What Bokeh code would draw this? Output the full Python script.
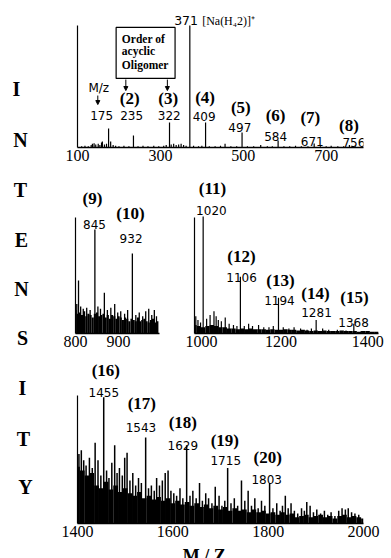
from bokeh.plotting import figure
from bokeh.layouts import row, column
from bokeh.models import Range1d, FixedTicker, Arrow, NormalHead
from bokeh.core.properties import value
from bokeh.embed import file_html
from bokeh.resources import INLINE

# ---------------- data ----------------
# Panel 1 (m/z 100-790), intensity relative to m/z 371 = 100
p1_mz = [110, 118, 126, 133, 136, 140, 144, 150, 154, 158, 160, 165, 170, 175, 180, 186, 192, 200, 212, 224,
         235, 246, 258, 270, 284, 296, 308, 314, 322, 326, 332, 338, 344, 350, 356, 362, 371, 380, 392, 400,
         409, 418, 432, 445, 456, 470, 484, 497, 510, 525, 542, 558, 570, 584, 598, 612, 626, 640, 656, 671,
         686, 700, 712, 728, 742, 756, 770]
p1_int = [1, 1.5, 1, 2, 3, 3.5, 2.5, 3, 2, 4, 5, 2.5, 3, 15.6, 5, 2, 1.5, 1, 1.5, 1,
          9.8, 1, 1.5, 1, 1.5, 1, 1.5, 2, 20.5, 2.5, 3, 2, 2.5, 3, 2, 1.5, 100, 1.5, 1, 1.5,
          20.5, 1, 1, 1.5, 3, 1, 1, 12.3, 1, 1, 2, 1, 1, 5.7, 1, 1, 1.5, 1, 1, 3.3,
          1, 1, 1.5, 1, 1, 2, 1]
p1_ticks = [100, 300, 500, 700]
p1_num_text = ["175", "235", "322", "409", "497", "584", "671", "756"]
p1_num_x = [158.3, 230.5, 321.4, 405.4, 491.6, 577.9, 666.4, 766.7]
p1_num_y = [26.2, 26.2, 26.2, 25.4, 16.4, 9.0, 4.9, 4.1]
p1_ord_text = ["(2)", "(3)", "(4)", "(5)", "(6)", "(7)", "(8)"]
p1_ord_x = [225.9, 319.0, 407.7, 494.0, 577.9, 661.8, 755.0]
p1_ord_y = [40.2, 40.2, 41.0, 32.8, 26.2, 24.6, 18.0]

# Panel 2 (m/z 800-995)
p2_floor_mz = [800, 805, 810, 815, 820, 825, 830, 835, 840, 845, 850, 855, 860, 865, 870, 875, 880, 885, 890, 895,
               900, 905, 910, 915, 920, 925, 930, 935, 940, 945, 950, 955, 960, 965, 970, 975, 980, 985, 990]
p2_floor_int = [19, 16, 17, 15, 18, 14, 16, 15, 13, 16, 17, 14, 15, 16, 13, 15, 12, 15, 14, 12,
                14, 13, 11, 13, 12, 10, 12, 11, 10, 13, 10, 11, 12, 10, 9, 11, 12, 9, 10]
p2_mz = [803, 807, 812, 818, 826, 834, 845, 852, 858, 867, 874, 882, 891, 898, 905, 914, 921, 932, 940, 948,
         956, 963, 970, 977, 983, 988]
p2_int = [24, 43, 22, 20, 21, 19, 84.5, 22, 20, 33, 19, 21, 24, 17, 18, 16, 19, 65, 15, 17,
          14, 18, 20, 15, 19, 14]
p2_ticks = [800, 900]
p2_num_text = ["845", "932"]
p2_num_x = [844, 929]
p2_num_y = [88.5, 77.2]
p2_ord_text = ["(9)", "(10)"]
p2_ord_x = [839.5, 927.7]
p2_ord_y = [109.7, 97.5]

# Panel 3 (m/z 1000-1425)
p3_floor_mz = [1000, 1010, 1020, 1030, 1040, 1050, 1060, 1070, 1080, 1090, 1100, 1110, 1120, 1130, 1140,
               1150, 1160, 1170, 1180, 1190, 1200, 1210, 1220, 1230, 1240, 1250, 1260, 1270, 1280, 1290,
               1300, 1310, 1320, 1330, 1340, 1350, 1360, 1370, 1380, 1390, 1400, 1410, 1420]
p3_floor_int = [7, 6, 5, 6, 7, 6, 5, 5, 4, 4, 3.5, 4, 3.5, 4, 3.5, 3.5, 3.5, 3, 3.5, 3,
                3, 3.5, 3, 3, 2.5, 3, 2.5, 2, 2.5, 2, 2.5, 2, 2, 2, 2.5, 2, 2, 2, 1.5, 2,
                2, 1.5, 1.5]
p3_mz = [1003, 1008, 1014, 1020, 1028, 1036, 1045, 1050, 1055, 1062, 1071, 1080, 1090, 1098, 1106, 1115,
         1125, 1134, 1148, 1160, 1172, 1182, 1194, 1205, 1218, 1230, 1245, 1260, 1270, 1281, 1296, 1310,
         1330, 1350, 1368, 1385, 1400]
p3_int = [14, 11, 9, 95, 12, 15, 18, 14, 11, 10, 13, 8, 7, 6, 46, 6,
          8, 6, 7, 5, 5, 6, 29, 5, 4, 5, 4, 3, 4, 11, 4, 3,
          3, 2.5, 8, 2, 2]
p3_ticks = [1000, 1200, 1400]
p3_num_text = ["1020", "1106", "1194", "1281", "1368"]
p3_num_x = [1039, 1108.6, 1196.3, 1281.8, 1367.3]
p3_num_y = [100, 45.5, 26.8, 17, 8.9]
p3_ord_text = ["(11)", "(12)", "(13)", "(14)", "(15)"]
p3_ord_x = [1041.6, 1108.6, 1198.7, 1279.5, 1369.6]
p3_ord_y = [117.8, 62.5, 43, 32.5, 29.2]

# Panel 4 (m/z 1400-2000)
p4_floor_mz = [1400, 1410, 1420, 1430, 1440, 1450, 1460, 1470, 1480, 1490,
               1500, 1510, 1520, 1530, 1540, 1550, 1560, 1570, 1580, 1590,
               1600, 1610, 1620, 1630, 1640, 1650, 1660, 1670, 1680, 1690,
               1700, 1710, 1720, 1730, 1740, 1750, 1760, 1770, 1780, 1790,
               1800, 1810, 1820, 1830, 1840, 1850, 1860, 1870, 1880, 1890,
               1900, 1910, 1920, 1930, 1940, 1950, 1960, 1970, 1980, 1990, 2000]
p4_floor_int = [45, 42, 38, 40, 30, 28, 33, 27, 30, 25,
                28, 24, 22, 25, 20, 22, 19, 21, 18, 20,
                16, 18, 15, 17, 14, 16, 13, 15, 12, 14,
                11, 13, 10, 12, 10, 11, 9, 11, 9, 10,
                8, 9, 7, 9, 7, 8, 5, 6, 7, 5,
                6, 7, 5, 6, 4, 6, 7, 5, 6, 5, 4]
p4_mz = [1403, 1408, 1413, 1418, 1425, 1431, 1437, 1443, 1449, 1455,
         1461, 1466, 1472, 1478, 1483, 1488, 1494, 1499, 1504, 1510,
         1516, 1522, 1528, 1534, 1543, 1549, 1555, 1561, 1566, 1572,
         1578, 1584, 1590, 1596, 1602, 1608, 1615, 1621, 1629, 1636,
         1642, 1649, 1656, 1662, 1669, 1675, 1682, 1689, 1697, 1703,
         1709, 1715, 1722, 1729, 1736, 1744, 1751, 1758, 1765, 1772,
         1779, 1786, 1793, 1803, 1810, 1818, 1825, 1830, 1836, 1842,
         1848, 1855, 1862, 1870, 1876, 1881, 1888, 1895, 1902, 1910,
         1918, 1925, 1932, 1940, 1948, 1955, 1962, 1968, 1975, 1982, 1990]
p4_int = [55, 58, 50, 46, 52, 44, 64, 50, 38, 100,
          42, 36, 48, 62, 40, 44, 38, 52, 56, 34,
          40, 30, 36, 32, 68, 28, 30, 26, 36, 30,
          34, 40, 42, 26, 24, 22, 28, 20, 62, 22,
          26, 20, 32, 18, 24, 20, 16, 29, 22, 14,
          18, 44, 16, 20, 14, 34, 18, 26, 14, 20,
          12, 18, 14, 32, 12, 16, 10, 14, 22, 12,
          16, 10, 8, 12, 10, 17, 14, 9, 11, 8,
          10, 7, 9, 6, 10, 12, 11, 12, 9, 8, 7]
p4_ticks = [1400, 1600, 1800, 2000]
p4_num_text = ["1455", "1543", "1629", "1715", "1803"]
p4_num_x = [1455.3, 1533, 1621, 1711, 1797]
p4_num_y = [103.7, 76, 61.8, 49.9, 34.8]
p4_ord_text = ["(16)", "(17)", "(18)", "(19)", "(20)"]
p4_ord_x = [1459.4, 1535, 1621, 1709, 1799]
p4_ord_y = [121, 95, 80, 65.7, 52.3]

ylabel_letters = ["I", "N", "T", "E", "N", "S", "I", "T", "Y"]
xlabel_text = "M / Z"

SERIF = "Liberation Serif"
SANS = "DejaVu Sans"


def make_panel(width, height, bl, br, bb, xr, yr, ticks, ybound):
    p = figure(width=width, height=height, x_range=Range1d(*xr), y_range=Range1d(*yr),
               output_backend="svg", toolbar_location=None,
               min_border_left=bl, min_border_right=br, min_border_top=0, min_border_bottom=bb)
    p.grid.visible = False
    p.outline_line_color = None
    p.background_fill_color = "white"
    p.border_fill_color = "white"
    xa = p.xaxis[0]
    xa.ticker = FixedTicker(ticks=ticks)
    xa.major_tick_line_color = None
    xa.minor_tick_line_color = None
    xa.major_tick_out = 0
    xa.minor_tick_out = 0
    xa.major_tick_in = 0
    xa.minor_tick_in = 0
    xa.axis_line_width = 1.4
    xa.axis_line_color = "black"
    xa.major_label_text_font = SERIF
    xa.major_label_text_font_size = "16px"
    xa.major_label_text_color = "black"
    xa.major_label_standoff = 2
    ya = p.yaxis[0]
    ya.ticker = FixedTicker(ticks=[])
    ya.bounds = (0, ybound)
    ya.major_tick_line_color = None
    ya.minor_tick_line_color = None
    ya.major_tick_out = 0
    ya.minor_tick_out = 0
    ya.major_label_standoff = 0
    ya.axis_line_width = 1.2
    ya.axis_line_color = "black"
    return p


def add_spectrum(p, mz, inten, lw=1.2, floor_mz=None, floor_int=None, floor_w=None):
    if floor_mz is not None:
        p.vbar(x=floor_mz, top=floor_int, bottom=0, width=floor_w, fill_color="black", line_color=None)
    p.segment(x0=mz, y0=[0] * len(mz), x1=mz, y1=inten, line_color="black", line_width=lw)


def add_labels(p, nt, nx, ny, ot, ox, oy):
    p.text(x=nx, y=ny, text=nt, text_font=value(SANS), text_font_size="12px",
           text_align="center", text_baseline="middle", text_color="black")
    p.text(x=ox, y=oy, text=ot, text_font=value(SERIF), text_font_style="bold",
           text_font_size="17px", text_align="center", text_baseline="middle", text_color="black")


def bare_figure(width, height, xr, yr, bl=0, br=0):
    f = figure(width=width, height=height, x_range=xr, y_range=yr,
               output_backend="svg", toolbar_location=None, x_axis_location=None, y_axis_location=None,
               min_border_left=bl, min_border_right=br, min_border_top=0, min_border_bottom=0)
    f.grid.visible = False
    f.outline_line_color = None
    return f


# ---------------- letters column ----------------
p0 = bare_figure(43, 558, Range1d(0, 43), Range1d(558, 0))
p0.text(x=[16, 20, 20, 21, 21, 22, 22, 23, 25], y=[88, 139, 189, 239, 288, 337, 387, 438, 486],
        text=ylabel_letters, text_font=value(SERIF), text_font_style="bold", text_font_size="20px",
        text_align="center", text_baseline="middle", text_color="black")

# ---------------- panel 1 ----------------
p1 = make_panel(348, 168, 24, 28, 21, (100, 790), (0, 120.5), p1_ticks, 100)
add_spectrum(p1, p1_mz, p1_int)
add_labels(p1, p1_num_text, p1_num_x, p1_num_y, p1_ord_text, p1_ord_x, p1_ord_y)
p1.text(x=[362], y=[104], text=["371"], text_font=value(SANS), text_font_size="12.5px",
        text_align="center", text_baseline="middle")
p1.text(x=[400.7], y=[104], text=["[Na(H\u20842)]\u207a"], text_font=value(SERIF), text_font_size="12px",
        text_align="left", text_baseline="middle")
p1.quad(left=[193.2], right=[335.4], bottom=[56.6], top=[98.4], fill_color=None,
        line_color="black", line_width=1.2)
p1.text(x=[207, 207, 207], y=[89.3, 78.7, 68.0], text=["Order of", "acyclic", "Oligomer"],
        text_font=value(SERIF), text_font_style="bold", text_font_size="11.5px",
        text_align="left", text_baseline="middle")
p1.text(x=[151.3], y=[48.4], text=["M/z"], text_font=value(SANS), text_font_size="12px",
        text_align="center", text_baseline="middle")
for xs, y0, y1 in [(216.6, 55.7, 46.7), (316.8, 55.7, 46.7), (149.0, 42.6, 35.2)]:
    p1.add_layout(Arrow(end=NormalHead(size=4, fill_color="black", line_color="black"),
                        x_start=xs, y_start=y0, x_end=xs, y_end=y1, line_width=1, line_color="black"))

# ---------------- panel 2 & 3 ----------------
p2 = make_panel(142, 187, 32, 26, 22, (800, 995), (0, 134), p2_ticks, 94)
add_spectrum(p2, p2_mz, p2_int, 1.3, p2_floor_mz, p2_floor_int, 5)
add_labels(p2, p2_num_text, p2_num_x, p2_num_y, p2_ord_text, p2_ord_x, p2_ord_y)

p3 = make_panel(206, 187, 9, 13, 22, (1000, 1425), (0, 134), p3_ticks, 94)
add_spectrum(p3, p3_mz, p3_int, 1.2, p3_floor_mz, p3_floor_int, 10)
add_labels(p3, p3_num_text, p3_num_x, p3_num_y, p3_ord_text, p3_ord_x, p3_ord_y)

# ---------------- panel 4 ----------------
p4 = make_panel(348, 190, 34, 21, 22, (1400, 2000), (0, 133), p4_ticks, 101)
add_spectrum(p4, p4_mz, p4_int, 1.5, p4_floor_mz, p4_floor_int, 10)
add_labels(p4, p4_num_text, p4_num_x, p4_num_y, p4_ord_text, p4_ord_x, p4_ord_y)

# x-axis title strip (shares panel 4's m/z range), cut by the page bottom as in the original
p5 = bare_figure(348, 13, p4.x_range, Range1d(13, 0), bl=34, br=21)
p5.text(x=[1666], y=[0], text=[xlabel_text], text_font=value(SERIF), text_font_style="bold",
        text_font_size="18px", text_align="center", text_baseline="top", text_color="black")

layout = row(p0, column(p1, row(p2, p3), p4, p5))
open("out.html", "w").write(file_html(layout, INLINE))
